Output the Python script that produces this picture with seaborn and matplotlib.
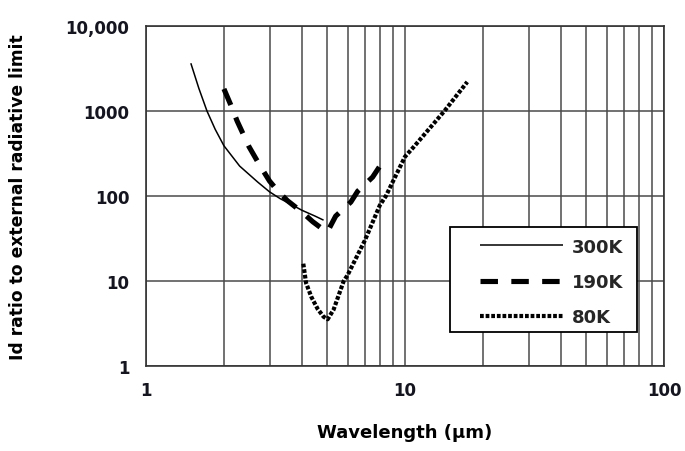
import matplotlib
matplotlib.use("Agg")
import matplotlib.pyplot as plt
import numpy as np
import pandas as pd
import seaborn as sns
from matplotlib.patches import Rectangle
from matplotlib.ticker import FixedLocator, NullLocator, NullFormatter

# Dark-current ratio to the external radiative limit versus wavelength
wl_300 = [1.49, 1.6, 1.72, 1.85, 2.0, 2.3, 2.7, 3.0, 3.3, 3.6, 4.0, 4.5, 4.85]
ratio_300 = [3650, 1850, 1000, 610, 390, 225, 146, 112, 93, 81, 68, 58, 52]

wl_190 = [2.0, 2.12, 2.25, 2.5, 2.75, 3.0, 3.25, 3.52, 4.02, 4.4, 4.8, 5.02,
          5.4, 6.18, 6.57, 7.5, 8.15]
ratio_190 = [1820, 1200, 760, 380, 230, 150, 112, 88, 64, 50, 41, 38,
             58, 85, 114, 167, 245]

wl_80 = [4.05, 4.15, 4.35, 4.6, 4.85, 5.03, 5.3, 5.8, 6.0, 7.0, 8.0, 8.44,
         9.0, 10.0, 10.8, 14.2, 17.4]
ratio_80 = [16, 9.5, 6.5, 4.7, 3.8, 3.55, 4.6, 10, 11.7, 30, 78, 100,
            150, 290, 377, 1000, 2200]

series_labels = ["300K", "190K", "80K"]

y_ticks = [1, 10, 100, 1000, 10000]
y_ticklabels = ["1", "10", "100", "1000", "10,000"]
x_ticks = [1, 10, 100]
x_ticklabels = ["1", "10", "100"]

sns.set_theme(style="white")
plt.rcParams["font.family"] = ["DejaVu Sans"]
plt.rcParams["font.weight"] = "bold"

frames = []
for lab, xs, ys in zip(series_labels, [wl_300, wl_190, wl_80],
                       [ratio_300, ratio_190, ratio_80]):
    frames.append(pd.DataFrame({"wavelength": xs, "ratio": ys, "temp": lab}))
df = pd.concat(frames, ignore_index=True)

fig = plt.figure(figsize=(6.85, 4.52), dpi=100)
ax = fig.add_axes([0.2131, 0.188, 0.7562, 0.7522])

styles = {
    "300K": dict(lw=1.1, ls="-"),
    "190K": dict(lw=3.7, ls=(0, (3.4, 2.6))),
    "80K": dict(lw=3.0, ls=(0, (0.9, 0.45))),
}

handles = []
for lab in series_labels:
    sub = df[df["temp"] == lab]
    sns.lineplot(data=sub, x="wavelength", y="ratio", ax=ax, color="black",
                 sort=False, estimator=None, label=lab, legend=False,
                 zorder=3)
    line = ax.get_lines()[-1]
    line.set_linewidth(styles[lab]["lw"])
    line.set_linestyle(styles[lab]["ls"])
    line.set_solid_capstyle("butt")
    line.set_dash_capstyle("butt")
    handles.append(line)

ax.set_xscale("log")
ax.set_yscale("log")
ax.set_xlim(1, 100)
ax.set_ylim(1, 10000)

ax.xaxis.set_major_locator(FixedLocator(x_ticks))
ax.set_xticklabels(x_ticklabels)
minor_x = [m * d for d in (1, 10) for m in range(2, 10)]
ax.xaxis.set_minor_locator(FixedLocator(minor_x))
ax.xaxis.set_minor_formatter(NullFormatter())
ax.yaxis.set_major_locator(FixedLocator(y_ticks))
ax.set_yticklabels(y_ticklabels)
ax.yaxis.set_minor_locator(NullLocator())

grid_col = "#4a4a4a"
ax.grid(True, which="major", axis="both", color=grid_col, lw=1.1, zorder=1)
ax.grid(True, which="minor", axis="x", color=grid_col, lw=1.1, zorder=1)
ax.set_axisbelow(True)

for sp in ax.spines.values():
    sp.set_visible(True)
    sp.set_color("#333333")
    sp.set_linewidth(1.2)

ax.tick_params(axis="both", which="major", direction="out", length=5,
               width=1.1, color="#333333", labelsize=12, labelcolor="#151520")
ax.tick_params(axis="y", which="major", pad=7)
ax.tick_params(axis="x", which="major", pad=6)
ax.tick_params(axis="x", which="minor", length=0)
for t in ax.get_xticklabels() + ax.get_yticklabels():
    t.set_fontweight("bold")

ax.set_xlabel("Wavelength (\u00b5m)", fontsize=13, fontweight="bold",
              labelpad=17, color="black")
ax.set_ylabel("Id ratio to external radiative limit", fontsize=12.3,
              fontweight="bold", labelpad=28, color="black")

# Legend box drawn as an opaque rectangle, legend entries on top of it
box = Rectangle((0.587, 0.10), 0.361, 0.309, transform=ax.transAxes,
                facecolor="white", edgecolor="black", lw=1.3, zorder=4)
ax.add_patch(box)
leg = ax.legend(handles, series_labels, loc="upper left",
                bbox_to_anchor=(0.627, 0.404), frameon=False, borderpad=0,
                handlelength=4.6, handletextpad=0.5, labelspacing=0.95,
                prop={"size": 13, "weight": "bold"})
leg.set_zorder(5)

fig.savefig("out.png", dpi=100)
